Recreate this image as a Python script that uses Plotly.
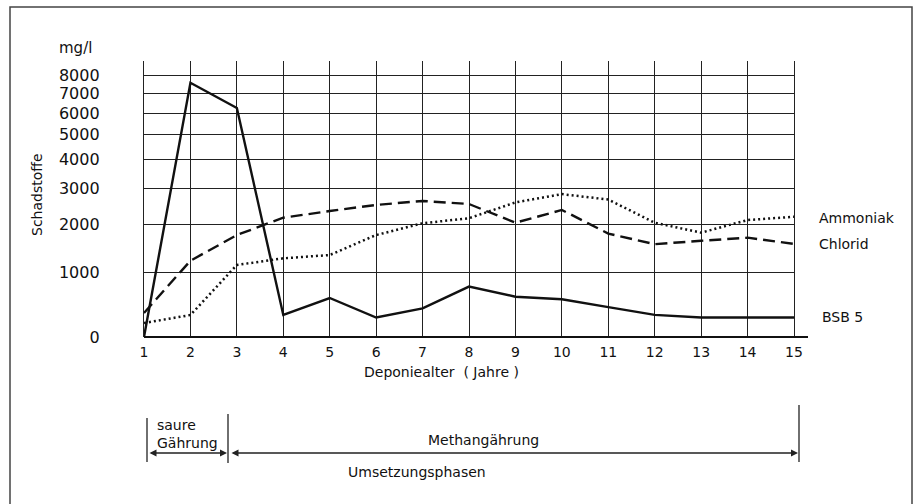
import numpy as np
import plotly.graph_objects as go

# ---------------- data ----------------
years = list(range(1, 16))
bsb5 = [0, 7570, 6250, 340, 600, 300, 440, 775, 620, 580, 460, 340, 300, 300, 300]
chlorid = [370, 1235, 1770, 2175, 2360, 2530, 2640, 2555, 2035, 2390, 1800, 1580, 1650, 1715, 1585]
ammoniak = [215, 338, 1146, 1285, 1354, 1770, 2020, 2160, 2600, 2830, 2680, 2035, 1820, 2110, 2200]

y_tick_values = [0, 1000, 2000, 3000, 4000, 5000, 6000, 7000, 8000]
y_tick_labels = ["0", "1000", "2000", "3000", "4000", "5000", "6000", "7000", "8000"]
x_tick_labels = [str(v) for v in years]

# hand-drawn non-linear value scale of the original (axis units of each gridline)
SCALE_POS = [0, 65, 113, 149, 178, 203, 224, 244, 262]


def scale(v):
    return np.interp(v, y_tick_values, SCALE_POS)


# ---------------- layout geometry (pixels) ----------------
W, H = 917, 504
PL, PR, PT, PB = 144, 794, 61, 337
FONT = "DejaVu Sans"
INK = "#111111"


def fx(x):
    return (x - PL) / (PR - PL)


def fy(y):
    return (PB - y) / (PB - PT)


fig = go.Figure()
fig.add_trace(go.Scatter(x=years, y=scale(bsb5), mode="lines", name="BSB 5",
                         line=dict(color=INK, width=2.4)))
fig.add_trace(go.Scatter(x=years, y=scale(chlorid), mode="lines", name="Chlorid",
                         line=dict(color=INK, width=2.4, dash="12px,6px")))
fig.add_trace(go.Scatter(x=years, y=scale(ammoniak), mode="lines", name="Ammoniak",
                         line=dict(color=INK, width=2.5, dash="2px,3px")))

shapes = []
# outer frame
shapes.append(dict(type="rect", xref="paper", yref="paper", x0=fx(10), x1=fx(912),
                   y0=fy(520), y1=fy(7), line=dict(color="#444", width=1.5)))
# zero line extending beyond the grid
shapes.append(dict(type="line", xref="paper", yref="paper", x0=fx(PL), x1=fx(808),
                   y0=fy(PB), y1=fy(PB), line=dict(color=INK, width=1.8)))
# phase bracket ticks
for xx, y0, y1 in [(147, 418, 462), (228, 414, 463), (799, 405, 462)]:
    shapes.append(dict(type="line", xref="paper", yref="paper", x0=fx(xx), x1=fx(xx),
                       y0=fy(y1), y1=fy(y0), line=dict(color="#222", width=1.3)))

ann = []


def text(t, x, y, size=14, xanchor="center", angle=0, align="center"):
    ann.append(dict(text=t, xref="paper", yref="paper", x=fx(x), y=fy(y), showarrow=False,
                    xanchor=xanchor, yanchor="middle", textangle=angle, align=align,
                    font=dict(family=FONT, size=size, color=INK)))


text("mg/l", 75, 48, 15)
text("Schadstoffe", 37, 195, 14, angle=-90)
text("Deponiealter  ( Jahre )", 441, 372, 14)
text("Ammoniak", 817, 218, 14, xanchor="left")
text("Chlorid", 817, 244, 14, xanchor="left")
text("BSB 5", 820, 317, 14, xanchor="left")
text("saure<br>Gährung", 155, 434, 14, xanchor="left", align="left")
text("Methangährung", 483, 440, 14)
text("Umsetzungsphasen", 417, 472, 14)

# double-headed arrows
for x_head, x_tail in [(227, 148), (798, 230)]:
    ann.append(dict(text="", xref="paper", yref="paper", x=fx(x_head), y=fy(453),
                    ax=x_tail - x_head, ay=0, showarrow=True, arrowhead=2,
                    arrowside="end+start", arrowsize=1, arrowwidth=1.4,
                    arrowcolor="#222", standoff=0, startstandoff=0))

fig.update_layout(
    width=W, height=H, autosize=False,
    margin=dict(l=PL, r=W - PR, t=PT, b=H - PB, pad=0),
    paper_bgcolor="white", plot_bgcolor="white",
    showlegend=False, hovermode=False,
    shapes=shapes, annotations=ann,
    font=dict(family=FONT, color=INK),
)
fig.update_xaxes(range=[1, 15], tickmode="array", tickvals=years, ticktext=x_tick_labels,
                 showgrid=True, gridcolor="#222", gridwidth=1.4, zeroline=False,
                 showline=False, ticks="", ticklabelstandoff=5,
                 tickfont=dict(family=FONT, size=14, color=INK), fixedrange=True)
fig.update_yaxes(range=[0, PB - PT], tickmode="array", tickvals=SCALE_POS,
                 ticktext=y_tick_labels, showgrid=True, gridcolor="#222", gridwidth=1.4,
                 zeroline=False, showline=True, mirror=True, linecolor="#222", linewidth=1.4,
                 ticks="", ticklabelstandoff=40,
                 tickfont=dict(family=FONT, size=16, color=INK), fixedrange=True)

fig.write_html("out.html", config={"displayModeBar": False},
               post_script="document.body.style.margin='0px';document.body.style.overflow='hidden';")
